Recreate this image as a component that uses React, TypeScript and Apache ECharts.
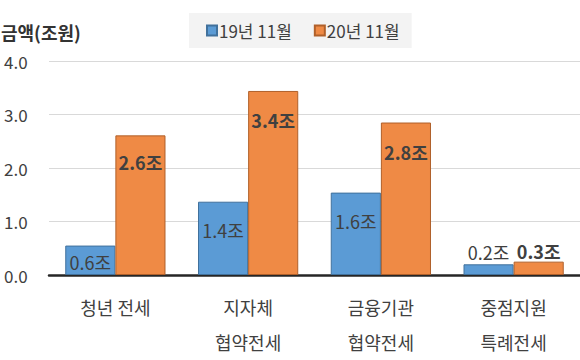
import React, { useEffect, useRef } from "react";
import * as echarts from "echarts";

const categories = ["청년 전세", "지자체\n협약전세", "금융기관\n협약전세", "중점지원\n특례전세"];
const seriesNames = ["19년 11월", "20년 11월"];
const values19 = [0.55, 1.37, 1.54, 0.2];
const values20 = [2.61, 3.44, 2.85, 0.25];
const labels19 = ["0.6조", "1.4조", "1.6조", "0.2조"];
const labels20 = ["2.6조", "3.4조", "2.8조", "0.3조"];
const yTicks = [0, 1, 2, 3, 4];

// label placement (styles, separate from data)
const pos19 = ["insideTop", "insideTop", "insideTop", "top"];
const dist19 = [7, 19, 19, 3];
const pos20 = ["insideTop", "insideTop", "insideTop", "top"];
const dist20 = [18, 20, 20, 2];

const FONT = "'Noto Sans CJK KR', 'Noto Sans', sans-serif";
const TXT = "#404040";

export default function App() {
  const ref = useRef<HTMLDivElement>(null);
  useEffect(() => {
    if (!ref.current) return;
    const chart = echarts.init(ref.current, null, { renderer: "svg" });
    const mk = (vals: number[], labs: string[], pos: string[], dist: number[], bold: boolean[]) =>
      vals.map((v, i) => ({
        value: v,
        label: {
          show: true,
          position: pos[i],
          distance: dist[i],
          formatter: labs[i],
          color: TXT,
          fontFamily: FONT,
          fontSize: 18,
          fontWeight: bold[i] ? "bold" : "normal",
        },
      }));
    chart.setOption({
      animation: false,
      textStyle: { fontFamily: FONT },
      title: {
        text: "금액(조원)",
        left: 1,
        top: 21,
        padding: 0,
        textStyle: { fontFamily: FONT, fontSize: 18, fontWeight: "bold", color: "#333", lineHeight: 21 },
      },
      legend: {
        left: 189,
        top: 13,
        padding: [9, 12, 9, 17],
        backgroundColor: "#f3f3f3",
        itemWidth: 10,
        itemHeight: 10,
        itemGap: 22,
        icon: "rect",
        data: seriesNames,
        textStyle: { fontFamily: FONT, fontSize: 17, color: TXT, padding: [0, 0, 0, -3] },
      },
      grid: { left: 49, right: -3, top: 61, bottom: 85, containLabel: false },
      xAxis: {
        type: "category",
        data: categories,
        axisTick: { show: false },
        axisLine: { show: true, lineStyle: { color: "#262626", width: 2.5 } },
        axisLabel: {
          color: TXT,
          fontFamily: FONT,
          fontSize: 18,
          lineHeight: 35,
          margin: 14,
          interval: 0,
        },
      },
      yAxis: {
        type: "value",
        min: yTicks[0],
        max: yTicks[yTicks.length - 1],
        interval: 1,
        axisLine: { show: false },
        axisTick: { show: false },
        splitLine: { lineStyle: { color: "#d9d9d9", width: 1 } },
        axisLabel: {
          color: TXT,
          fontFamily: FONT,
          fontSize: 17,
          align: "left",
          margin: 45,
          formatter: (v: number) => v.toFixed(1),
        },
      },
      series: [
        {
          name: seriesNames[0],
          type: "bar",
          barGap: "0%",
          barCategoryGap: "24.5%",
          itemStyle: { color: "#5B9BD5", borderColor: "#41719C", borderWidth: 1 },
          data: mk(values19, labels19, pos19, dist19, [false, false, false, false]),
        },
        {
          name: seriesNames[1],
          type: "bar",
          barGap: "0%",
          barCategoryGap: "24.5%",
          itemStyle: { color: "#EF8A45", borderColor: "#B0602A", borderWidth: 1 },
          data: mk(values20, labels20, pos20, dist20, [true, true, true, true]),
        },
      ],
    });
    return () => chart.dispose();
  }, []);
  return (
    <div
      ref={ref}
      style={{ position: "fixed", left: 0, top: 0, width: 580, height: 360, background: "#fff" }}
    />
  );
}
